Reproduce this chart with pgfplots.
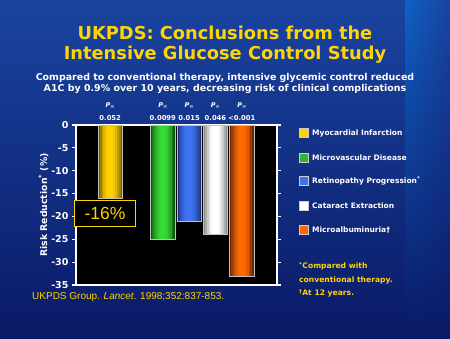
\documentclass[border=0pt]{standalone}
\usepackage{pgfplots}
\pgfplotsset{compat=1.18}
\usetikzlibrary{fadings}
\usepackage{fontspec}
\setmainfont{DejaVu Sans}
\newfontfamily\arial{Liberation Sans}
\definecolor{ttl}{HTML}{FFD400}
\definecolor{bgtop}{HTML}{1A44A0}
\definecolor{bgbot}{HTML}{0A1A66}
\definecolor{yD}{HTML}{7A5C00}\definecolor{yL}{HTML}{FFD200}
\definecolor{gD}{HTML}{0E5A0E}\definecolor{gL}{HTML}{38D838}
\definecolor{bD}{HTML}{16307F}\definecolor{bL}{HTML}{3E74F2}
\definecolor{wD}{HTML}{8A8A8A}\definecolor{wL}{HTML}{FFFFFF}
\definecolor{oD}{HTML}{6E2400}\definecolor{oL}{HTML}{FF6A00}
\newcommand{\pval}[2]{%
  \node[text=white, font=\bfseries\fontsize{6.8}{7}\selectfont] at (axis cs:#1,1.6) {#2};
  \node[text=white, font=\bfseries\itshape\fontsize{6.5}{7}\selectfont] at (axis cs:#1,4.3) {P\raisebox{-0.3ex}{\tiny=}};}
\newcommand{\cyl}[4]{%
  \addplot[draw=none, fill=#3, bar width=0.93] coordinates {(#1,#2)};
  \addplot[draw=none, fill=#4!30!#3, bar width=0.80] coordinates {(#1,#2)};
  \addplot[draw=none, fill=#4!55!#3, bar width=0.66] coordinates {(#1,#2)};
  \addplot[draw=none, fill=#4!75!#3, bar width=0.52] coordinates {(#1,#2)};
  \addplot[draw=none, fill=#4!90!#3, bar width=0.38] coordinates {(#1,#2)};
  \addplot[draw=none, fill=#4, bar width=0.24] coordinates {(#1,#2)};
  \addplot[draw=white!75!black, line width=0.6pt, fill=none, bar width=0.93] coordinates {(#1,#2)};}
\begin{document}
\begin{tikzpicture}[x=1pt,y=1pt]
\shade[top color=bgtop, bottom color=bgbot] (0,0) rectangle (450,338);
\shade[top color=cyan!55!blue, bottom color=bgbot, path fading=east, opacity=0.4] (405,0) rectangle (450,338);
% title
\node[font=\bfseries\fontsize{17.8}{20}\selectfont, text=ttl, align=center] at (225,293) {UKPDS: Conclusions from the\\Intensive Glucose Control Study};
\node[font=\bfseries\fontsize{9.45}{11}\selectfont, text=white, align=center] at (225,254.5) {Compared to conventional therapy, intensive glycemic control reduced\\A1C by 0.9\% over 10 years, decreasing risk of clinical complications};
\begin{axis}[
  at={(76pt,53pt)}, anchor=south west,
  width=201pt, height=160pt, scale only axis,
  xmin=0, xmax=7.64, ymin=-35, ymax=0,
  axis background/.style={fill=black},
  axis line style={white, line width=1.6pt},
  xtick=\empty,
  ytick={0,-5,-10,-15,-20,-25,-30,-35},
  yticklabels={0,-5,-10,-15,-20,-25,-30,-35},
  tick align=outside, major tick length=4pt,
  ytick style={white, line width=1.2pt},
  yticklabel style={font=\bfseries\fontsize{9.5}{11}\selectfont, text=white},
  ylabel={Risk Reduction\textsuperscript{*} (\%)},
  ylabel style={font=\bfseries\fontsize{9.3}{11}\selectfont, text=white, yshift=-4pt},
  clip=false,
  ybar, bar shift=0pt,
]
\cyl{1.3}{-16}{yD}{yL}
\cyl{3.3}{-25}{gD}{gL}
\cyl{4.3}{-21}{bD}{bL}
\cyl{5.3}{-24}{wD}{wL}
\cyl{6.3}{-33}{oD}{oL}
\node[draw=ttl, line width=1.2pt, fill=black, text=ttl, font=\arial\fontsize{17.5}{19}\selectfont, inner sep=2pt, minimum width=61pt, minimum height=26pt] at (axis cs:1.1,-19.3) {-16\%};
\pval{1.3}{0.052}
\pval{3.3}{0.0099}
\pval{4.3}{0.015}
\pval{5.3}{0.046}
\pval{6.3}{<0.001}
\end{axis}
% legend
\foreach \y/\c/\t in {133/yL/{Myocardial Infarction}, 158/gL!85!black/{Microvascular Disease}, 181/bL/{Retinopathy Progression\textsuperscript{*}}, 206/white/{Cataract Extraction}, 230/oL/{Microalbuminuria\textdagger}}{
  \fill[\c, draw=white!80!black, line width=0.6pt] (299,338-\y-4.5) rectangle +(9,9);
  \node[anchor=west, text=white, font=\bfseries\fontsize{7.5}{9}\selectfont, inner sep=0pt] at (312,338-\y) {\t};
}
\node[anchor=north west, align=left, text=ttl, font=\bfseries\fontsize{7.6}{13.5}\selectfont, inner sep=0pt] at (299,338-262) {\textsuperscript{*}Compared with\\conventional therapy.\\\textsuperscript{\textdagger}At 12 years.};
\node[anchor=west, text=ttl, font=\arial\fontsize{10}{12}\selectfont, inner sep=0pt] at (32,338-297) {UKPDS Group. \textit{Lancet}. 1998;352:837-853.};
\end{tikzpicture}
\end{document}
